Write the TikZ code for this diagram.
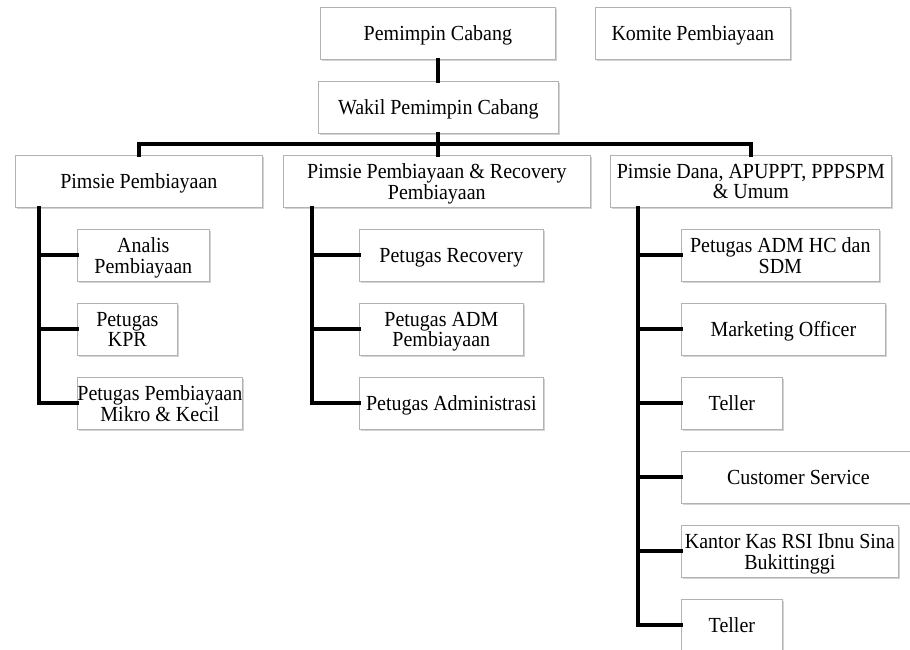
\documentclass[tikz,border=0pt]{standalone}
\usepackage{fontspec}
\setmainfont{Liberation Serif}[FakeStretch=0.93]
\usetikzlibrary{shadows}
\newcommand{\boxfont}{\fontsize{21.5}{20.5}\selectfont}
\tikzset{
  orgbox/.style={draw=gray!60, fill=white, line width=0.7pt, anchor=north west,
    minimum height=52pt, inner xsep=0pt, inner ysep=1pt, align=center, font=\boxfont,
    text depth=0pt,
    drop shadow={shadow xshift=1.2pt, shadow yshift=-1.6pt, opacity=0.35, fill=gray}},
  conn/.style={line width=3.8pt, black, line cap=rect, line join=miter}
}
\begin{document}
\begin{tikzpicture}[x=1pt,y=-1pt]
\useasboundingbox (0,0) rectangle (910,650);
% top
\node[orgbox, minimum width=235pt] (pc) at (320,7) {Pemimpin Cabang};
\node[orgbox, minimum width=195pt] (kp) at (595,7) {Komite Pembiayaan};
\node[orgbox, minimum width=240pt] (wpc) at (318,81) {Wakil Pemimpin Cabang};
% second level
\node[orgbox, minimum width=247pt] (pp) at (15,155) {Pimsie Pembiayaan};
\node[orgbox, minimum width=307pt] (pr) at (283,155) {Pimsie Pembiayaan \& Recovery\\Pembiayaan};
\node[orgbox, minimum width=281pt] (pd) at (610,155) {Pimsie Dana, APUPPT, PPPSPM\\\& Umum};
% left children
\node[orgbox, minimum width=132pt] (ap) at (77,229) {Analis\\Pembiayaan};
\node[orgbox, minimum width=100pt] (kpr) at (77,303) {Petugas\\KPR};
\node[orgbox, minimum width=165pt] (mk) at (77,377) {Petugas Pembiayaan\\Mikro \& Kecil};
% middle children
\node[orgbox, minimum width=184pt] (rec) at (359,229) {Petugas Recovery};
\node[orgbox, minimum width=164pt] (adm) at (359,303) {Petugas ADM\\Pembiayaan};
\node[orgbox, minimum width=184pt] (adms) at (359,377) {Petugas Administrasi};
% right children
\node[orgbox, minimum width=198pt] (hc) at (681,229) {Petugas ADM HC dan\\SDM};
\node[orgbox, minimum width=204pt] (mo) at (681,303) {Marketing Officer};
\node[orgbox, minimum width=101pt] (t1) at (681,377) {Teller};
\node[orgbox, minimum width=234pt] (cs) at (681,451) {Customer Service};
\node[orgbox, minimum width=217pt] (kk) at (681,525) {Kantor Kas RSI Ibnu Sina\\Bukittinggi};
\node[orgbox, minimum width=101pt] (t2) at (681,599) {Teller};
% connector coordinates
\coordinate (busy) at (0,144);
\coordinate (lx) at (39,0);
\coordinate (mx) at (312,0);
\coordinate (rx) at (638,0);
% connectors
\draw[conn] (pc.south) -- (pc.south |- wpc.north);
\draw[conn] (wpc.south) -- (wpc.south |- pr.north);
\draw[conn] (pp.north) -- (pp.north |- busy) -- (pd.north |- busy) -- (pd.north);
\draw[conn] (lx |- pp.south) |- (mk.west);
\draw[conn] (lx |- ap.west) -- (ap.west);
\draw[conn] (lx |- kpr.west) -- (kpr.west);
\draw[conn] (mx |- pr.south) |- (adms.west);
\draw[conn] (mx |- rec.west) -- (rec.west);
\draw[conn] (mx |- adm.west) -- (adm.west);
\draw[conn] (rx |- pd.south) |- (t2.west);
\draw[conn] (rx |- hc.west) -- (hc.west);
\draw[conn] (rx |- mo.west) -- (mo.west);
\draw[conn] (rx |- t1.west) -- (t1.west);
\draw[conn] (rx |- cs.west) -- (cs.west);
\draw[conn] (rx |- kk.west) -- (kk.west);
\end{tikzpicture}
\end{document}
